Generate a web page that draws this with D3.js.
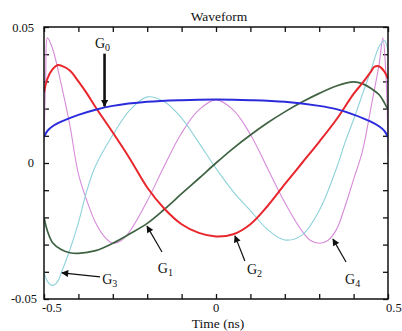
<!DOCTYPE html>
<html>
<head>
<meta charset="utf-8">
<script src="https://cdn.jsdelivr.net/npm/d3@7"></script>
<style>
  body { margin: 0; background: #fff; }
  svg text { font-family: "Liberation Serif", "Times New Roman", "DejaVu Serif", serif; fill: #111; }
</style>
</head>
<body>
<div id="viz"></div>
<script>
// waveforms, time in ns
var g0Time = [-0.5,-0.49,-0.475,-0.45,-0.4,-0.35,-0.3,-0.2,-0.1,0,0.1,0.2,0.3,0.35,0.4,0.45,0.475,0.49,0.5];
var g0Vals = [0.0095,0.0118,0.0135,0.0152,0.0177,0.0196,0.021,0.0225,0.0231,0.0233,0.0231,0.0225,0.021,0.0198,0.0178,0.0152,0.0134,0.0117,0.0094];

var g1Time = [-0.5,-0.49,-0.475,-0.45,-0.425,-0.4,-0.35,-0.3,-0.25,-0.2,-0.15,-0.1,-0.05,0,0.05,0.1,0.15,0.2,0.25,0.3,0.35,0.4,0.425,0.45,0.475,0.49,0.5];
var g1Vals = [-0.020,-0.025,-0.0293,-0.0318,-0.033,-0.0332,-0.0322,-0.0295,-0.026,-0.0222,-0.017,-0.0113,-0.0057,0,0.0054,0.0103,0.0148,0.0188,0.0224,0.0256,0.0283,0.0298,0.0292,0.0275,0.025,0.022,0.0195];

var g2Time = [-0.5,-0.49,-0.475,-0.46,-0.45,-0.425,-0.4,-0.375,-0.35,-0.3,-0.25,-0.2,-0.15,-0.1,-0.05,0,0.05,0.1,0.15,0.2,0.25,0.3,0.35,0.4,0.425,0.45,0.46,0.475,0.49,0.5];
var g2Vals = [0.026,0.031,0.0345,0.036,0.0358,0.034,0.030,0.0255,0.0205,0.0112,0.0015,-0.009,-0.0168,-0.0225,-0.0257,-0.027,-0.0262,-0.0225,-0.0158,-0.0078,0.000,0.0078,0.016,0.0254,0.0293,0.0335,0.0353,0.0355,0.0335,0.031];

var g3Time = [-0.5,-0.49,-0.475,-0.46,-0.45,-0.425,-0.4,-0.375,-0.35,-0.3,-0.25,-0.2,-0.15,-0.1,-0.05,0,0.05,0.1,0.15,0.2,0.25,0.3,0.35,0.375,0.4,0.425,0.45,0.475,0.49,0.5];
var g3Vals = [-0.040,-0.0435,-0.045,-0.0435,-0.0405,-0.032,-0.022,-0.010,-0.001,0.0103,0.0195,0.0243,0.0225,0.0165,0.0075,-0.002,-0.0105,-0.0175,-0.0245,-0.0283,-0.0265,-0.0175,-0.002,0.0075,0.016,0.025,0.034,0.043,0.045,0.041];

var g4Time = [-0.5,-0.495,-0.49,-0.475,-0.45,-0.425,-0.4,-0.375,-0.35,-0.325,-0.3,-0.275,-0.25,-0.2,-0.15,-0.1,-0.05,0,0.05,0.1,0.15,0.2,0.25,0.275,0.3,0.325,0.35,0.375,0.4,0.425,0.45,0.475,0.485,0.495,0.5];
var g4Vals = [0.008,0.032,0.046,0.042,0.029,0.014,-0.004,-0.014,-0.022,-0.027,-0.0295,-0.0285,-0.025,-0.014,-0.001,0.011,0.0195,0.0232,0.0195,0.0105,-0.002,-0.0145,-0.025,-0.0285,-0.0295,-0.0285,-0.0245,-0.016,-0.006,0.004,0.020,0.037,0.046,0.030,0.003];

var xTicks = [-0.5,-0.4,-0.3,-0.2,-0.1,0,0.1,0.2,0.3,0.4,0.5];
var yTicks = [-0.05,-0.04,-0.03,-0.02,-0.01,0,0.01,0.02,0.03,0.04,0.05];
var xTickLabels = ["-0.5", "0", "0.5"];
var xTickLabelVals = [-0.5, 0, 0.5];
var yTickLabels = ["0.05", "0", "-0.05"];
var yTickLabelVals = [0.05, 0, -0.05];

// annotation labels and arrows, in data units
var labelNames = ["0", "1", "2", "3", "4"];
var labelPos = [[-0.352, 0.0423], [-0.169, -0.0404], [0.090, -0.0408], [-0.331, -0.0445], [0.375, -0.0445]];
var arrowTail = [[-0.324, 0.0402], [-0.157, -0.0327], [0.084, -0.036], [-0.337, -0.0419], [0.378, -0.0364]];
var arrowTip = [[-0.324, 0.0208], [-0.2006, -0.0232], [0.055, -0.0268], [-0.448, -0.0404], [0.340, -0.028]];

var width = 402,
    height = 331,
    margin = ({top: 27, right: 14, bottom: 32, left: 44});

var x = d3.scaleLinear()
  .domain([-0.5, 0.5])
  .range([margin.left, width - margin.right]);

var y = d3.scaleLinear()
  .domain([-0.05, 0.05])
  .range([height - margin.bottom, margin.top]);

var svg = d3.select('#viz')
  .append('svg')
  .attr('width', width)
  .attr('height', height)
  .attr('font-family', '"Liberation Serif", "Times New Roman", serif');

var defs = svg.append("defs");
defs.append("marker")
  .attr("id", "head")
  .attr("markerUnits", "userSpaceOnUse")
  .attr("viewBox", "0 0 10 10")
  .attr("refX", 9).attr("refY", 5)
  .attr("markerWidth", 8).attr("markerHeight", 7)
  .attr("orient", "auto")
  .append("path")
  .attr("d", "M0,0 L10,5 L0,10 z")
  .attr("fill", "#111");

defs.append("clipPath").attr("id", "plot")
  .append("rect")
  .attr("x", margin.left).attr("y", margin.top - 2)
  .attr("width", width - margin.left - margin.right)
  .attr("height", height - margin.top - margin.bottom + 4);

// ticks on all four sides, pointing inward
svg.append("g")
  .attr("transform", "translate(0," + (height - margin.bottom) + ")")
  .call(d3.axisBottom(x).tickValues(xTicks).tickSize(-5).tickFormat(""))
  .call(g => g.select(".domain").remove());
svg.append("g")
  .attr("transform", "translate(0," + margin.top + ")")
  .call(d3.axisTop(x).tickValues(xTicks).tickSize(-5).tickFormat(""))
  .call(g => g.select(".domain").remove());
svg.append("g")
  .attr("transform", "translate(" + margin.left + ",0)")
  .call(d3.axisLeft(y).tickValues(yTicks).tickSize(-5).tickFormat(""))
  .call(g => g.select(".domain").remove());
svg.append("g")
  .attr("transform", "translate(" + (width - margin.right) + ",0)")
  .call(d3.axisRight(y).tickValues(yTicks).tickSize(-5).tickFormat(""))
  .call(g => g.select(".domain").remove());
svg.selectAll(".tick line").attr("stroke", "#111").attr("stroke-width", 1.3);

var line = d3.line()
  .x(d => x(d[0]))
  .y(d => y(d[1]))
  .curve(d3.curveCatmullRom.alpha(0.5));

var series = [
  {t: g4Time, v: g4Vals, color: "#d68bd9", w: 1.1},
  {t: g3Time, v: g3Vals, color: "#8ed2da", w: 1.1},
  {t: g1Time, v: g1Vals, color: "#3f6242", w: 1.7},
  {t: g2Time, v: g2Vals, color: "#e8272d", w: 2},
  {t: g0Time, v: g0Vals, color: "#2b2bdc", w: 2}
];

svg.append("g")
  .attr("clip-path", "url(#plot)")
  .selectAll("path")
  .data(series)
  .join("path")
  .attr("fill", "none")
  .attr("stroke", d => d.color)
  .attr("stroke-width", d => d.w)
  .attr("stroke-linejoin", "round")
  .attr("d", d => line(d.t.map((t, i) => [t, d.v[i]])));

// frame
svg.append("rect")
  .attr("x", margin.left)
  .attr("y", margin.top)
  .attr("width", width - margin.left - margin.right)
  .attr("height", height - margin.top - margin.bottom)
  .attr("fill", "none")
  .attr("stroke", "#111")
  .attr("stroke-width", 1.5);

svg.append("g")
  .selectAll("text")
  .data(xTickLabelVals)
  .join("text")
  .attr("x", (d, i) => x(d) + (i == 0 ? -2 : i == 2 ? -2 : 0))
  .attr("y", height - margin.bottom + 13)
  .attr("text-anchor", (d, i) => i == 1 ? "middle" : "start")
  .attr("font-size", 12.5)
  .text((d, i) => xTickLabels[i]);

svg.append("g")
  .selectAll("text")
  .data(yTickLabelVals)
  .join("text")
  .attr("x", (d, i) => i == 2 ? 37 : 34)
  .attr("y", (d, i) => y(d) + (i == 0 ? 5 : 4))
  .attr("text-anchor", "end")
  .attr("font-size", 12.5)
  .text((d, i) => yTickLabels[i]);

svg.append("text")
  .attr("x", 219)
  .attr("y", 21)
  .attr("text-anchor", "middle")
  .attr("font-size", 13.5)
  .text("Waveform");

svg.append("text")
  .attr("x", 218)
  .attr("y", 328)
  .attr("text-anchor", "middle")
  .attr("font-size", 13.5)
  .text("Time (ns)");

// arrows pointing at each curve
svg.append("g")
  .selectAll("line")
  .data(arrowTail)
  .join("line")
  .attr("x1", d => x(d[0]))
  .attr("y1", d => y(d[1]))
  .attr("x2", (d, i) => x(arrowTip[i][0]))
  .attr("y2", (d, i) => y(arrowTip[i][1]))
  .attr("stroke", "#111")
  .attr("stroke-width", (d, i) => i == 0 ? 2.6 : 1.2)
  .attr("marker-end", "url(#head)");

var labels = svg.append("g")
  .selectAll("text")
  .data(labelPos)
  .join("text")
  .attr("x", d => x(d[0]))
  .attr("y", d => y(d[1]))
  .attr("font-size", 14);
labels.append("tspan").text("G");
labels.append("tspan")
  .attr("font-size", 10)
  .attr("dy", 3)
  .text((d, i) => labelNames[i]);
</script>
</body>
</html>
